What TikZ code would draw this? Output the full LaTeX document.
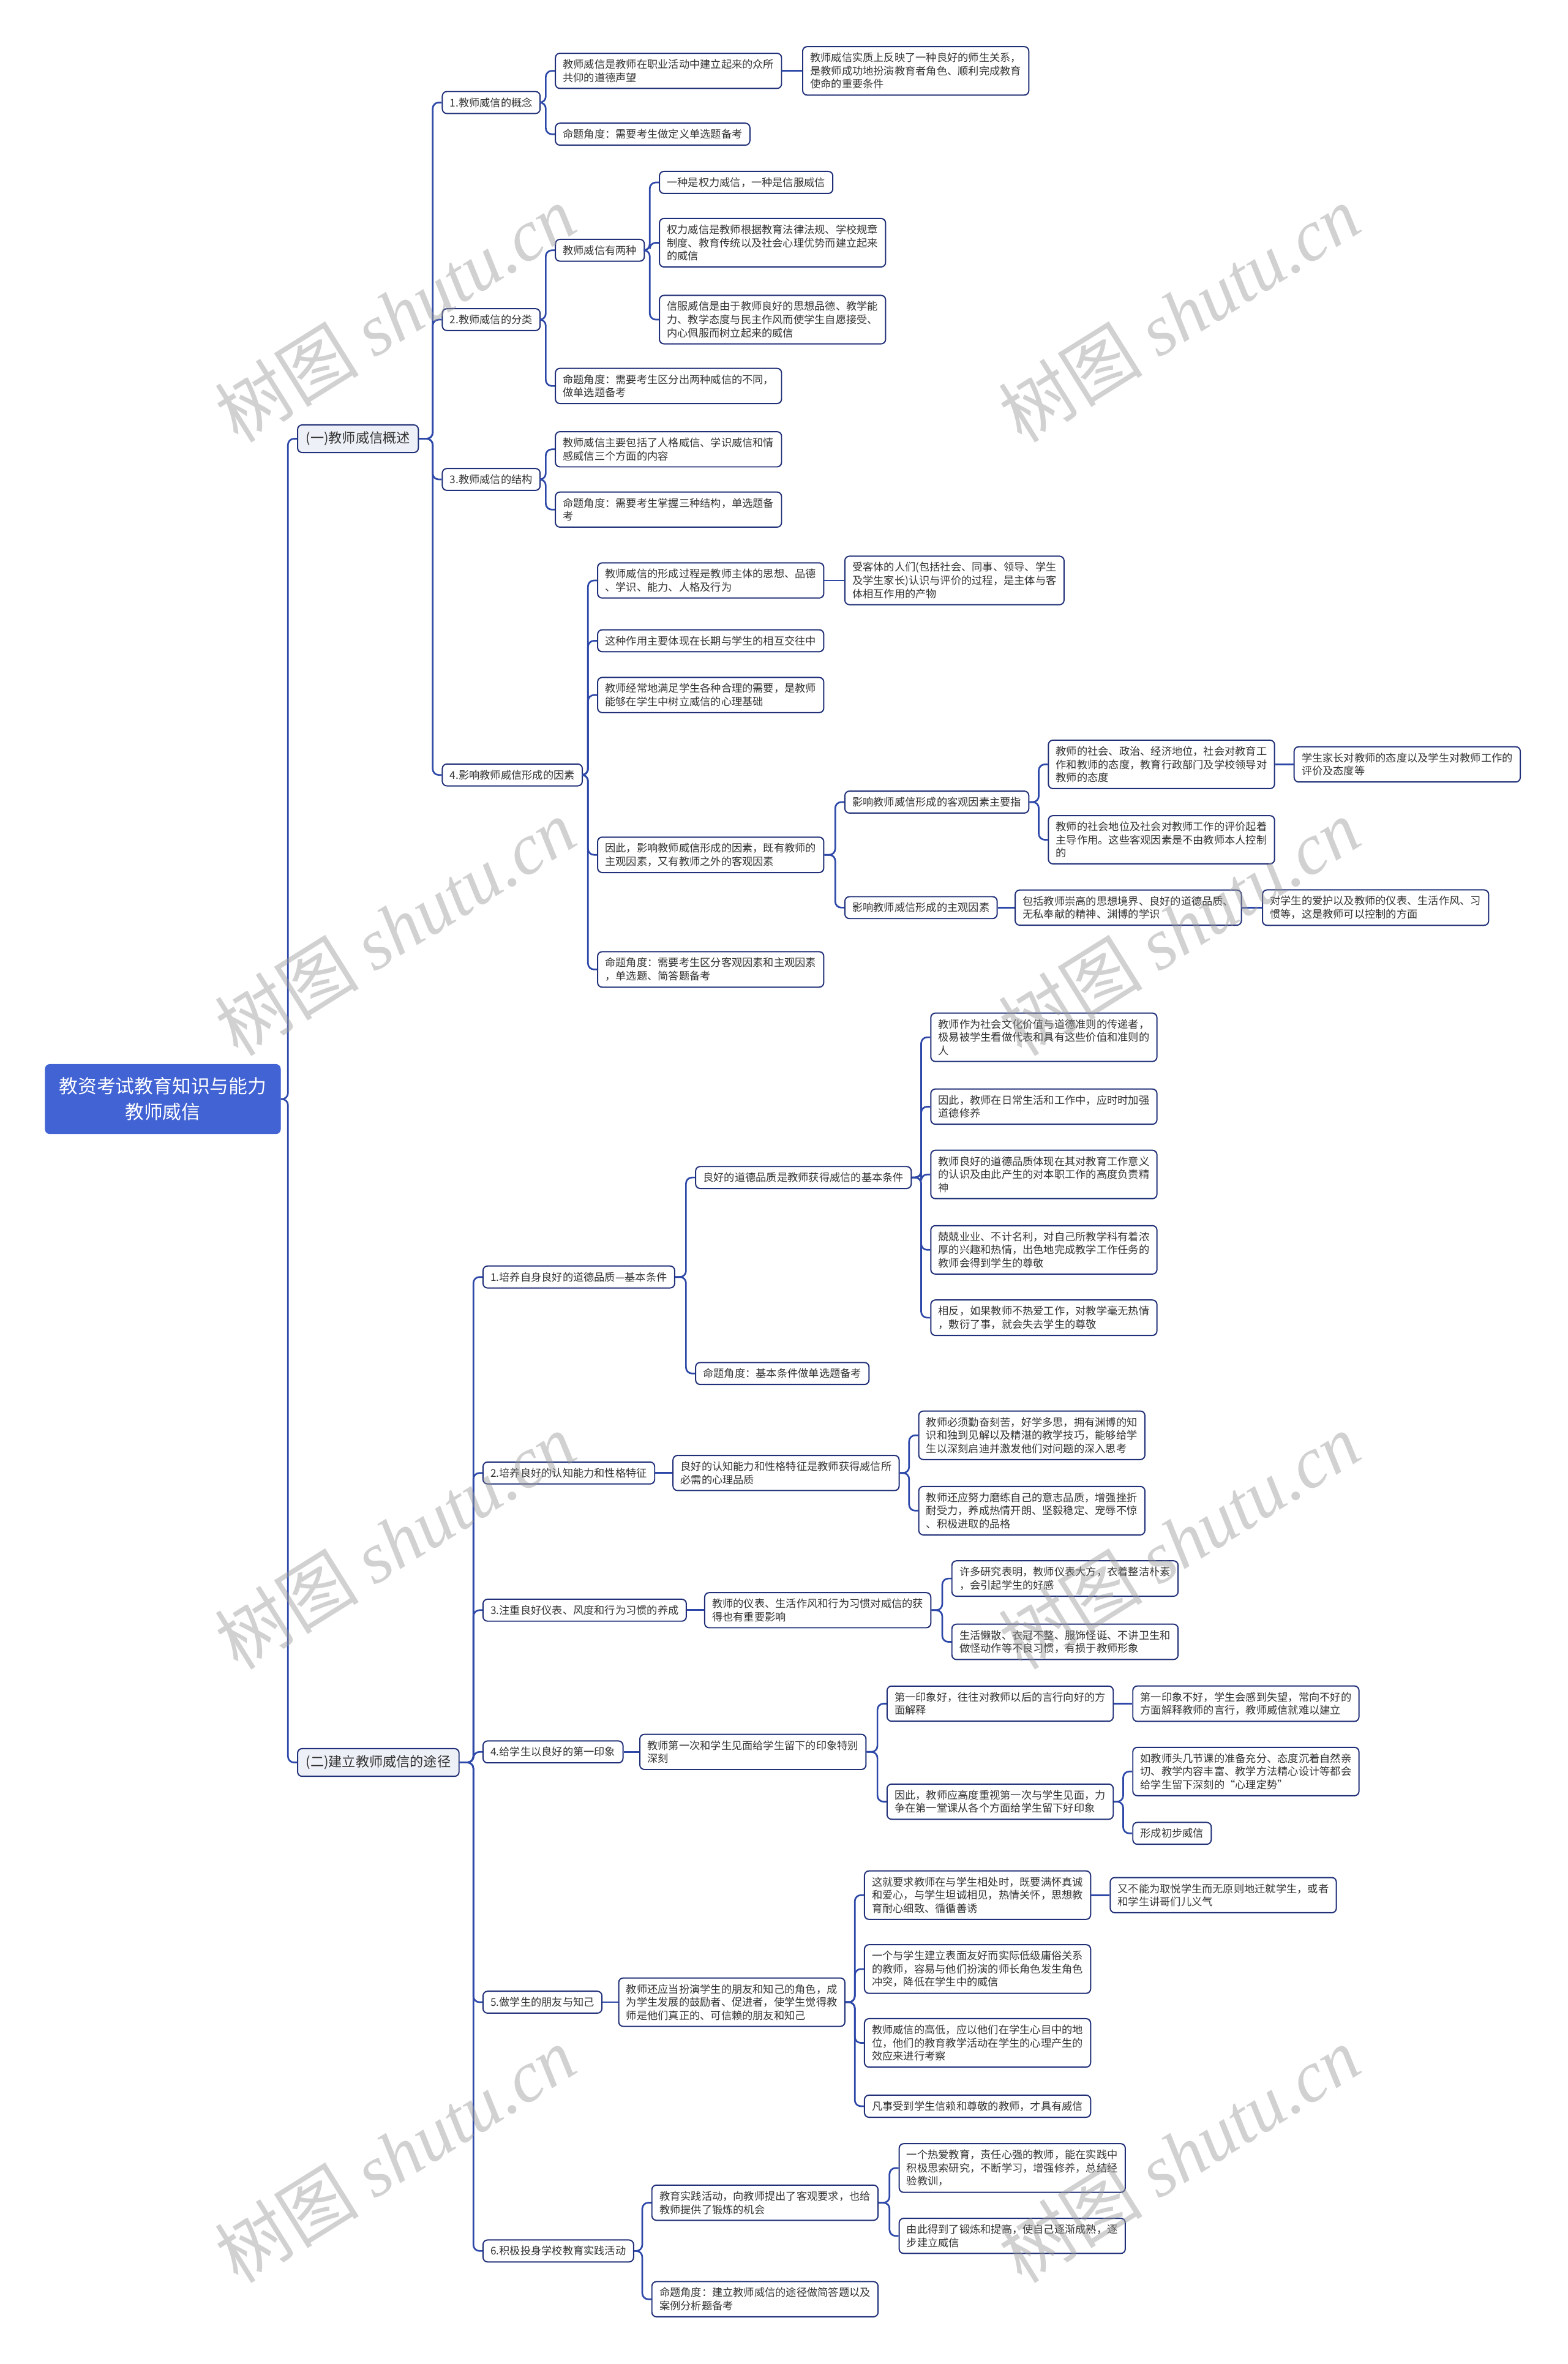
\documentclass[tikz,border=0pt]{standalone}
\usepackage{fontspec}
\setmainfont{Noto Sans CJK SC}
\newfontfamily\wmlatin{Liberation Serif}
\definecolor{LineClr}{RGB}{45,72,168}
\definecolor{BoxClr}{RGB}{33,48,120}
\definecolor{RootClr}{RGB}{66,99,212}
\definecolor{TopClr}{RGB}{237,240,246}

\begin{document}
\begin{tikzpicture}[x=1pt,y=-1pt,
  box/.style={draw=BoxClr,line width=.8pt,rounded corners=3pt,fill=white,text=black!80,anchor=west,align=left,inner xsep=5pt,inner ysep=4pt,font=\fontsize{7}{8.8}\selectfont},
  topbox/.style={box,fill=TopClr,inner xsep=5.5pt,inner ysep=4.5pt,font=\fontsize{9}{11}\selectfont},
  rootbox/.style={draw=RootClr,fill=RootClr,rounded corners=3pt,text=white,align=center,minimum width=156pt,minimum height=46pt,font=\fontsize{12.5}{17}\selectfont},
  lnk/.style={draw=LineClr,line width=1.1pt,rounded corners=4pt},
  wmark/.style={rotate=32,text=black!40,opacity=.45,font=\fontsize{48}{48}\selectfont}]

\useasboundingbox (0,0) rectangle (1040,1568);

\node[rootbox] (root) at (108,729) {教资考试教育知识与能力\\教师威信};

\node[topbox] (ga) at (197,291) {(一)教师威信概述};
\node[topbox] (gb) at (197,1169) {(二)建立教师威信的途径};

\node[box] (a1) at (293,68) {1.教师威信的概念};
\node[box] (a2) at (293,212) {2.教师威信的分类};
\node[box] (a3) at (293,318) {3.教师威信的结构};
\node[box] (a4) at (293,514) {4.影响教师威信形成的因素};

\node[box] (a1x) at (368,47) {教师威信是教师在职业活动中建立起来的众所\\共仰的道德声望};
\node[box] (a1xx) at (532,47) {教师威信实质上反映了一种良好的师生关系，\\是教师成功地扮演教育者角色、顺利完成教育\\使命的重要条件};
\node[box] (a1y) at (368,89) {命题角度：需要考生做定义单选题备考};

\node[box] (a2x) at (368,166) {教师威信有两种};
\node[box] (a2x1) at (437,121) {一种是权力威信，一种是信服威信};
\node[box] (a2x2) at (437,161) {权力威信是教师根据教育法律法规、学校规章\\制度、教育传统以及社会心理优势而建立起来\\的威信};
\node[box] (a2x3) at (437,212) {信服威信是由于教师良好的思想品德、教学能\\力、教学态度与民主作风而使学生自愿接受、\\内心佩服而树立起来的威信};
\node[box] (a2y) at (368,256) {命题角度：需要考生区分出两种威信的不同，\\做单选题备考};

\node[box] (a3x) at (368,298) {教师威信主要包括了人格威信、学识威信和情\\感威信三个方面的内容};
\node[box] (a3y) at (368,338) {命题角度：需要考生掌握三种结构，单选题备\\考};

\node[box] (a4x) at (396,385) {教师威信的形成过程是教师主体的思想、品德\\、学识、能力、人格及行为};
\node[box] (a4xx) at (560,385) {受客体的人们(包括社会、同事、领导、学生\\及学生家长)认识与评价的过程，是主体与客\\体相互作用的产物};
\node[box] (a4y) at (396,425) {这种作用主要体现在长期与学生的相互交往中};
\node[box] (a4z) at (396,461) {教师经常地满足学生各种合理的需要，是教师\\能够在学生中树立威信的心理基础};
\node[box] (a4w) at (396,567) {因此，影响教师威信形成的因素，既有教师的\\主观因素，又有教师之外的客观因素};
\node[box] (a4v) at (396,643) {命题角度：需要考生区分客观因素和主观因素\\，单选题、简答题备考};

\node[box] (kg) at (560,532) {影响教师威信形成的客观因素主要指};
\node[box] (kg1) at (695,507) {教师的社会、政治、经济地位，社会对教育工\\作和教师的态度，教育行政部门及学校领导对\\教师的态度};
\node[box] (kg1x) at (858,507) {学生家长对教师的态度以及学生对教师工作的\\评价及态度等};
\node[box] (kg2) at (695,557) {教师的社会地位及社会对教师工作的评价起着\\主导作用。这些客观因素是不由教师本人控制\\的};
\node[box] (zg) at (560,602) {影响教师威信形成的主观因素};
\node[box] (zg1) at (673,602) {包括教师崇高的思想境界、良好的道德品质、\\无私奉献的精神、渊博的学识};
\node[box] (zg1x) at (837,602) {对学生的爱护以及教师的仪表、生活作风、习\\惯等，这是教师可以控制的方面};

\node[box] (b1) at (320,847) {1.培养自身良好的道德品质—基本条件};
\node[box] (b2) at (320,977) {2.培养良好的认知能力和性格特征};
\node[box] (b3) at (320,1068) {3.注重良好仪表、风度和行为习惯的养成};
\node[box] (b4) at (320,1162) {4.给学生以良好的第一印象};
\node[box] (b5) at (320,1328) {5.做学生的朋友与知己};
\node[box] (b6) at (320,1493) {6.积极投身学校教育实践活动};

\node[box] (b1x) at (461,781) {良好的道德品质是教师获得威信的基本条件};
\node[box] (b1x1) at (617,688) {教师作为社会文化价值与道德准则的传递者，\\极易被学生看做代表和具有这些价值和准则的\\人};
\node[box] (b1x2) at (617,734) {因此，教师在日常生活和工作中，应时时加强\\道德修养};
\node[box] (b1x3) at (617,779) {教师良好的道德品质体现在其对教育工作意义\\的认识及由此产生的对本职工作的高度负责精\\神};
\node[box] (b1x4) at (617,829) {兢兢业业、不计名利，对自己所教学科有着浓\\厚的兴趣和热情，出色地完成教学工作任务的\\教师会得到学生的尊敬};
\node[box] (b1x5) at (617,874) {相反，如果教师不热爱工作，对教学毫无热情\\，敷衍了事，就会失去学生的尊敬};
\node[box] (b1y) at (461,911) {命题角度：基本条件做单选题备考};

\node[box] (b2x) at (446,977) {良好的认知能力和性格特征是教师获得威信所\\必需的心理品质};
\node[box] (b2x1) at (609,952) {教师必须勤奋刻苦，好学多思，拥有渊博的知\\识和独到见解以及精湛的教学技巧，能够给学\\生以深刻启迪并激发他们对问题的深入思考};
\node[box] (b2x2) at (609,1002) {教师还应努力磨练自己的意志品质，增强挫折\\耐受力，养成热情开朗、坚毅稳定、宠辱不惊\\、积极进取的品格};

\node[box] (b3x) at (467,1068) {教师的仪表、生活作风和行为习惯对威信的获\\得也有重要影响};
\node[box] (b3x1) at (631,1047) {许多研究表明，教师仪表大方，衣着整洁朴素\\，会引起学生的好感};
\node[box] (b3x2) at (631,1089) {生活懒散、衣冠不整、服饰怪诞、不讲卫生和\\做怪动作等不良习惯，有损于教师形象};

\node[box] (b4x) at (424,1162) {教师第一次和学生见面给学生留下的印象特别\\深刻};
\node[box] (b4x1) at (588,1130) {第一印象好，往往对教师以后的言行向好的方\\面解释};
\node[box] (b4x1x) at (751,1130) {第一印象不好，学生会感到失望，常向不好的\\方面解释教师的言行，教师威信就难以建立};
\node[box] (b4x2) at (588,1195) {因此，教师应高度重视第一次与学生见面，力\\争在第一堂课从各个方面给学生留下好印象};
\node[box] (b4x2a) at (751,1175) {如教师头几节课的准备充分、态度沉着自然亲\\切、教学内容丰富、教学方法精心设计等都会\\给学生留下深刻的“心理定势”};
\node[box] (b4x2b) at (751,1216) {形成初步威信};

\node[box] (b5x) at (410,1328) {教师还应当扮演学生的朋友和知己的角色，成\\为学生发展的鼓励者、促进者，使学生觉得教\\师是他们真正的、可信赖的朋友和知己};
\node[box] (b5x1) at (573,1257) {这就要求教师在与学生相处时，既要满怀真诚\\和爱心，与学生坦诚相见，热情关怀，思想教\\育耐心细致、循循善诱};
\node[box] (b5x1x) at (736,1257) {又不能为取悦学生而无原则地迁就学生，或者\\和学生讲哥们儿义气};
\node[box] (b5x2) at (573,1306) {一个与学生建立表面友好而实际低级庸俗关系\\的教师，容易与他们扮演的师长角色发生角色\\冲突，降低在学生中的威信};
\node[box] (b5x3) at (573,1355) {教师威信的高低，应以他们在学生心目中的地\\位，他们的教育教学活动在学生的心理产生的\\效应来进行考察};
\node[box] (b5x4) at (573,1397) {凡事受到学生信赖和尊敬的教师，才具有威信};

\node[box] (b6x) at (432,1461) {教育实践活动，向教师提出了客观要求，也给\\教师提供了锻炼的机会};
\node[box] (b6x1) at (596,1438) {一个热爱教育，责任心强的教师，能在实践中\\积极思索研究，不断学习，增强修养，总结经\\验教训，};
\node[box] (b6x2) at (596,1483) {由此得到了锻炼和提高，使自己逐渐成熟，逐\\步建立威信};
\node[box] (b6y) at (432,1525) {命题角度：建立教师威信的途径做简答题以及\\案例分析题备考};

\foreach \p/\c in {root/ga,root/gb,ga/a1,ga/a2,ga/a3,ga/a4,a1/a1x,a1/a1y,a2/a2x,a2/a2y,
  a2x/a2x1,a2x/a2x2,a2x/a2x3,a3/a3x,a3/a3y,a4/a4x,a4/a4y,a4/a4z,a4/a4w,a4/a4v,
  a4w/kg,a4w/zg,kg/kg1,kg/kg2,gb/b1,gb/b2,gb/b3,gb/b4,gb/b5,gb/b6,b1/b1x,b1/b1y,
  b1x/b1x1,b1x/b1x2,b1x/b1x3,b1x/b1x4,b1x/b1x5,b2x/b2x1,b2x/b2x2,b3x/b3x1,b3x/b3x2,
  b4x/b4x1,b4x/b4x2,b4x2/b4x2a,b4x2/b4x2b,b5x/b5x1,b5x/b5x2,b5x/b5x3,b5x/b5x4,
  b6/b6x,b6/b6y,b6x/b6x1,b6x/b6x2}
  \draw[lnk] (\c.west) -- ++(-6,0) |- (\p.east);

\foreach \p/\c in {a1x/a1xx,a4x/a4xx,kg1/kg1x,zg/zg1,zg1/zg1x,b2/b2x,b3/b3x,b4/b4x,
  b4x1/b4x1x,b5/b5x,b5x1/b5x1x}
  \draw[lnk] (\p.east) -- (\c.west);

\foreach \i/\x/\y in {1/262/208,2/782/208,3/262/615,4/782/615,5/262/1022,6/782/1022,7/262/1429,8/782/1429}
  \node[wmark] (wm\i) at (\x,\y) {树图 {\wmlatin\itshape shutu.cn}};

\end{tikzpicture}
\end{document}
